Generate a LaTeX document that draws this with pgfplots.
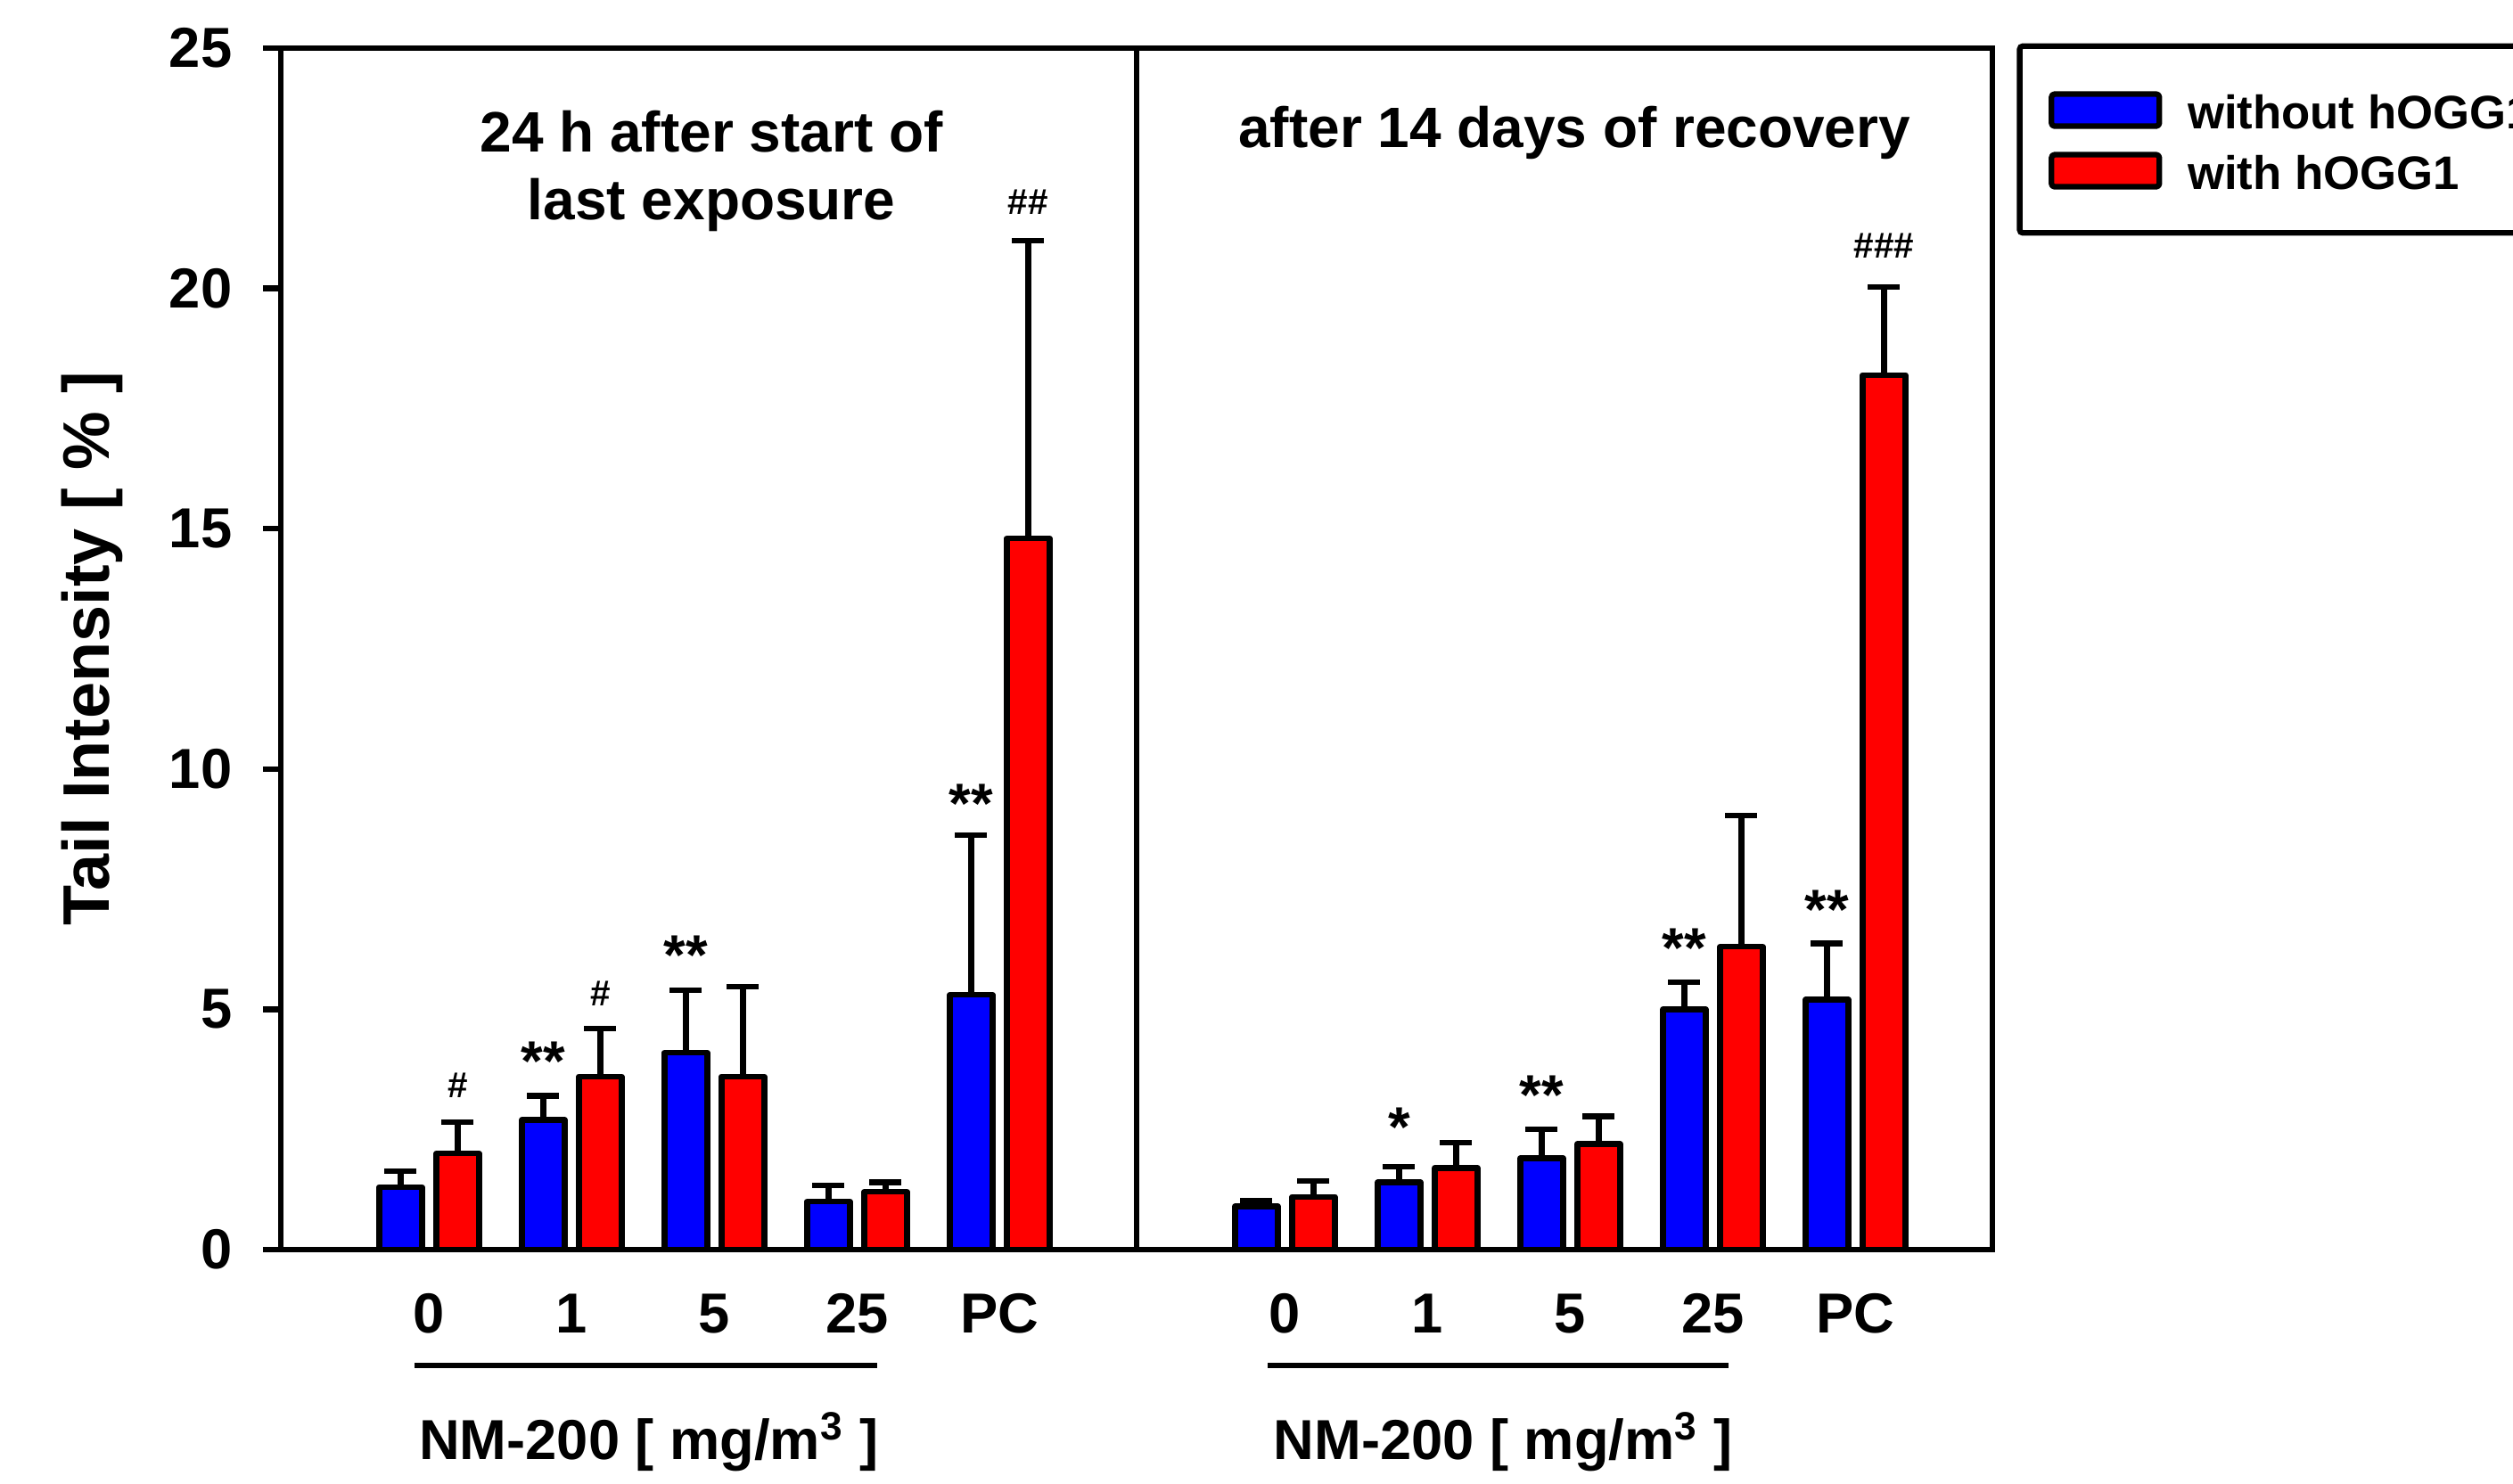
\documentclass[border=0pt]{standalone}
\usepackage{pgfplots}
\pgfplotsset{compat=1.18}
\usepackage{fontspec}
\setmainfont{Liberation Sans}

\definecolor{barblue}{RGB}{0,0,255}
\definecolor{barred}{RGB}{255,0,0}
\newcommand\tf{\fontsize{18}{21.6}\selectfont\bfseries}
\newcommand\ttl{\fontsize{18.2}{21.6}\selectfont\bfseries}
\newcommand\lf{\fontsize{15}{18}\selectfont\bfseries}
\newcommand\yf{\fontsize{21}{25}\selectfont\bfseries}
\newcommand\hf{\fontsize{11.5}{13}\selectfont\bfseries}

\begin{document}
\begin{tikzpicture}
\begin{axis}[
    at={(0,0)}, anchor=south west,
    scale only axis, width=19.2cm, height=13.48cm,
    xmin=-0.04, xmax=11.96, ymin=0, ymax=25,
    clip=false,
    axis line style={line width=1.8pt},
    ytick={0,5,10,15,20,25},
    ytick pos=left,
    tick align=outside,
    major tick length=0.2cm,
    ytick style={line width=1.8pt, black},
    xtick={1,2,3,4,5,7,8,9,10,11},
    xticklabels={0,1,5,25,PC,0,1,5,25,PC},
    xtick style={draw=none},
    /pgf/number format/assume math mode=true,
    yticklabel style={font=\tf, anchor=east, inner sep=0pt, xshift=-0.34cm},
    xticklabel style={font=\tf, anchor=base, yshift=-0.73cm},
    ylabel={Tail Intensity [ \% ]},
    ylabel style={font=\yf, at={(axis description cs:-0.11,0.5)}, anchor=center},
    ybar, bar width=0.3, bar shift=0pt,
    legend style={at={(axis description cs:1.0143,1.004)}, anchor=north west,
        draw=black, line width=1.8pt, rounded corners=1pt, font=\lf,
        inner xsep=0.325cm, inner ysep=0.3675cm, column sep=0.286cm, row sep=0pt,
        nodes={inner sep=0pt, text height=0.5575cm, text depth=0.1225cm}},
    legend cell align=left,
    legend image code/.code={\draw[#1, line width=1.8pt, rounded corners=1pt] (0cm,-0.19cm) rectangle (1.21cm,0.17cm);},
    error bars/y dir=plus, error bars/y explicit,
    error bars/error bar style={line width=1.8pt, black},
    error bars/error mark options={rotate=90, mark size=0.18cm, line width=1.8pt, black},
]

% without hOGG1
\addplot[fill=barblue, draw=black, line width=1.8pt, line join=round]
    coordinates {
    (0.8,1.3) +- (0,0.33)
    (1.8,2.7) +- (0,0.50)
    (2.8,4.1) +- (0,1.30)
    (3.8,1.0) +- (0,0.33)
    (4.8,5.3) +- (0,3.33)
    (6.8,0.9) +- (0,0.12)
    (7.8,1.4) +- (0,0.33)
    (8.8,1.9) +- (0,0.60)
    (9.8,5.0) +- (0,0.57)
    (10.8,5.2) +- (0,1.17)
    };
\addlegendentry{without hOGG1}

% with hOGG1
\addplot[fill=barred, draw=black, line width=1.8pt, line join=round]
    coordinates {
    (1.2,2.0) +- (0,0.65)
    (2.2,3.6) +- (0,1.00)
    (3.2,3.6) +- (0,1.87)
    (4.2,1.2) +- (0,0.20)
    (5.2,14.8) +- (0,6.20)
    (7.2,1.1) +- (0,0.33)
    (8.2,1.7) +- (0,0.53)
    (9.2,2.2) +- (0,0.57)
    (10.2,6.3) +- (0,2.73)
    (11.2,18.2) +- (0,1.83)
    };
\addlegendentry{with hOGG1}

% panel divider
\draw[line width=1.8pt] (axis cs:5.96,0) -- (axis cs:5.96,25);

% panel titles
\node[font=\ttl, align=center] at (axis cs:2.98,22.44) {24 h after start of\\last exposure};
\node[font=\ttl] at (axis cs:9.03,23.24) {after 14 days of recovery};

% significance marks
\node[font=\tf, anchor=base, yshift=-0.30cm] at (axis cs:1.8,4.07) {**};
\node[font=\tf, anchor=base, yshift=-0.30cm] at (axis cs:2.8,6.27) {**};
\node[font=\tf, anchor=base, yshift=-0.30cm] at (axis cs:4.8,9.43) {**};
\node[font=\tf, anchor=base, yshift=-0.30cm] at (axis cs:7.8,2.70) {*};
\node[font=\tf, anchor=base, yshift=-0.30cm] at (axis cs:8.8,3.37) {**};
\node[font=\tf, anchor=base, yshift=-0.30cm] at (axis cs:9.8,6.43) {**};
\node[font=\tf, anchor=base, yshift=-0.30cm] at (axis cs:10.8,7.23) {**};
\node[font=\hf, anchor=base, yshift=-0.14cm] at (axis cs:1.2,3.43) {\#};
\node[font=\hf, anchor=base, yshift=-0.14cm] at (axis cs:2.2,5.33) {\#};
\node[font=\hf, anchor=base, yshift=-0.14cm] at (axis cs:5.2,21.8) {\#\#};
\node[font=\hf, anchor=base, yshift=-0.14cm] at (axis cs:11.2,20.9) {\#\#\#};

% dose group brackets
\draw[line width=1.7pt] (axis cs:0.90,-2.41) -- (axis cs:4.14,-2.41);
\draw[line width=1.7pt] (axis cs:6.88,-2.41) -- (axis cs:10.11,-2.41);
\node[font=\tf] at (axis cs:2.54,-4.0) {NM-200 [ mg/m\textsuperscript{3} ]};
\node[font=\tf] at (axis cs:8.53,-4.0) {NM-200 [ mg/m\textsuperscript{3} ]};
\end{axis}
\pgfresetboundingbox
\path[use as bounding box] (-3.15cm,-2.62cm) rectangle (25.04cm,14.02cm);
\end{tikzpicture}
\end{document}
